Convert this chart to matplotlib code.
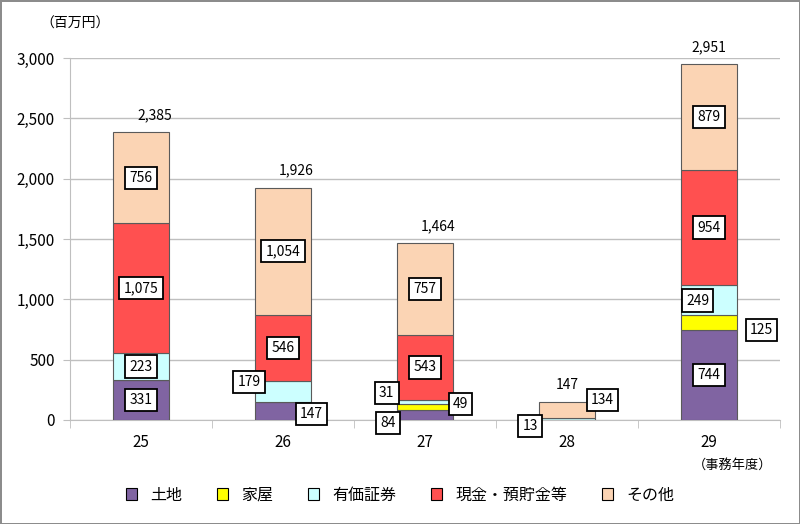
import matplotlib.pyplot as plt
from matplotlib.patches import Patch
import numpy as np

plt.rcParams['font.family'] = ['Noto Sans CJK JP', 'DejaVu Sans']

# data
years = ['25', '26', '27', '28', '29']
series_names = ['土地', '家屋', '有価証券', '現金・預貯金等', 'その他']
land = [331, 147, 84, 0, 744]
house = [0, 0, 49, 0, 125]
securities = [223, 179, 31, 13, 249]
cash = [1075, 546, 543, 0, 954]
other = [756, 1054, 757, 134, 879]
totals = [2385, 1926, 1464, 147, 2951]

colors = ['#8064A2', '#FFFF00', '#CCFFFF', '#FF5050', '#FBD4B4']

# label placement overrides: (year idx, series idx) -> (dx, y)
label_pos = {
    (1, 0): (0.20, 50),
    (1, 2): (-0.24, 315),
    (2, 2): (-0.27, 224),
    (2, 1): (0.25, 133),
    (2, 0): (-0.26, -25),
    (3, 2): (-0.26, -50),
    (3, 4): (0.25, 166),
    (4, 1): (0.37, 746),
    (4, 2): (-0.08, 990),
}
total_dx = [0.1, 0.09, 0.09, 0.0, 0.0]

fig = plt.figure(figsize=(8, 5.24), dpi=100)
fig.patch.set_edgecolor('#8c8c8c')
fig.patch.set_linewidth(2)
ax = fig.add_axes([0.0875, 0.1985, 0.8875, 0.6908])

x = np.arange(len(years))
data = [land, house, securities, cash, other]
bottom = np.zeros(len(years))
for si, vals in enumerate(data):
    vals = np.array(vals, dtype=float)
    ax.bar(x, vals, width=0.4, bottom=bottom, color=colors[si],
           edgecolor='#5a5a5a', linewidth=0.8, zorder=3)
    for i, v in enumerate(vals):
        if v <= 0:
            continue
        dx, yy = label_pos.get((i, si), (0, bottom[i] + v / 2))
        ax.text(x[i] + dx, yy, f'{int(v):,}', ha='center', va='center',
                fontsize=10, zorder=5,
                bbox=dict(boxstyle='square,pad=0.3', fc='white', ec='black', lw=1.3))
    bottom += vals

for i, t in enumerate(totals):
    ax.annotate(f'{t:,}', (x[i] + total_dx[i], t), xytext=(0, 17),
                textcoords='offset pixels', ha='center', va='center', fontsize=10)

ax.set_xlim(-0.5, len(years) - 0.5)
ax.set_ylim(0, 3000)
ax.set_yticks(np.arange(0, 3001, 500))
ax.set_yticklabels([f'{v:,}' for v in range(0, 3001, 500)], fontsize=11)
ax.yaxis.grid(True, color='#bfbfbf', lw=1, zorder=0)
ax.set_axisbelow(True)
ax.tick_params(axis='y', length=5, color='#bfbfbf', pad=6)

ax.set_xticks(x)
ax.set_xticklabels(years, fontsize=11)
ax.tick_params(axis='x', length=0, pad=10)
ax.set_xticks(np.arange(-0.5, len(years)), minor=True)
ax.tick_params(axis='x', which='minor', length=6, color='#bfbfbf')

for s in ['top', 'right']:
    ax.spines[s].set_visible(False)
ax.spines['left'].set_color('#bfbfbf')
ax.spines['bottom'].set_color('#bfbfbf')

fig.text(0.05, 0.955, '（百万円）', fontsize=10, ha='left', va='center')
fig.text(0.965, 0.112, '（事務年度）', fontsize=9.5, ha='right', va='center')

handles = [Patch(facecolor=c, edgecolor='black', lw=0.8) for c in colors]
fig.legend(handles, series_names, loc='center', bbox_to_anchor=(0.5, 0.055),
           ncol=5, frameon=False, fontsize=11.5, handlelength=0.7,
           handleheight=0.7, columnspacing=2.2, handletextpad=0.8)

fig.savefig('out.png', dpi=100, facecolor='white', edgecolor=fig.patch.get_edgecolor())
